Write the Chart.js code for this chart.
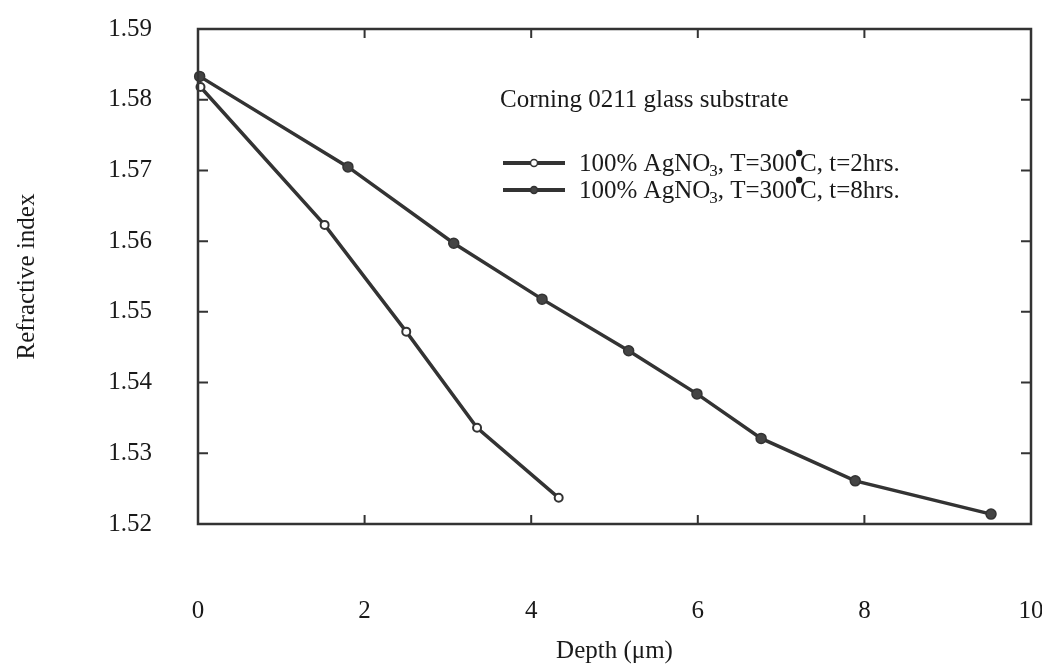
<!DOCTYPE html>
<html>
<head>
<meta charset="utf-8">
<script src="https://cdn.jsdelivr.net/npm/chart.js@4"></script>
<style>
  html, body { margin: 0; padding: 0; background: #fff; }
  #wrap { width: 1042px; height: 670px; }
</style>
</head>
<body>
<div id="wrap"><canvas id="chart" width="1042" height="670"></canvas></div>
<script>
// values
var depth2h = [0.03, 1.52, 2.50, 3.35, 4.33];
var index2h = [1.5818, 1.5623, 1.5472, 1.5336, 1.5237];
var depth8h = [0.02, 1.80, 3.07, 4.13, 5.17, 5.99, 6.76, 7.89, 9.52];
var index8h = [1.5833, 1.5705, 1.5597, 1.5518, 1.5445, 1.5384, 1.5321, 1.5261, 1.5214];
var xTicks = [0, 2, 4, 6, 8, 10];
var yTicks = [1.52, 1.53, 1.54, 1.55, 1.56, 1.57, 1.58, 1.59];
var noteText = 'Corning 0211 glass substrate';
var seriesNames = ['100% AgNO3, T=300°C, t=2hrs.', '100% AgNO3, T=300°C, t=8hrs.'];

var ink = '#333';
var textInk = '#1a1a1a';
var serif = '"Liberation Serif", "DejaVu Serif", serif';

function toPoints(xs, ys) {
  return xs.map(function(x, i) { return { x: x, y: ys[i] }; });
}

// frame + inward ticks on all four sides
var framePlugin = {
  id: 'frame',
  afterDatasetsDraw: function(chart) {
    var ctx = chart.ctx, a = chart.chartArea;
    var xs = chart.scales.x, ys = chart.scales.y;
    ctx.save();
    ctx.strokeStyle = ink;
    ctx.lineWidth = 2.5;
    ctx.strokeRect(a.left, a.top, a.right - a.left, a.bottom - a.top);
    ctx.lineWidth = 2;
    ctx.beginPath();
    xTicks.forEach(function(v) {
      if (v === xs.min || v === xs.max) return;
      var px = xs.getPixelForValue(v);
      ctx.moveTo(px, a.bottom); ctx.lineTo(px, a.bottom - 9);
      ctx.moveTo(px, a.top); ctx.lineTo(px, a.top + 9);
    });
    yTicks.forEach(function(v) {
      if (v === ys.min || v === ys.max) return;
      var py = ys.getPixelForValue(v);
      ctx.moveTo(a.left, py); ctx.lineTo(a.left + 10, py);
      ctx.moveTo(a.right, py); ctx.lineTo(a.right - 10, py);
    });
    ctx.stroke();
    ctx.restore();
  }
};

// draws "100% AgNO3, T=300°C, t=.." with subscript 3 and raised dot for degree
function drawLabel(ctx, label, x, y) {
  var parts = label.split('AgNO3');
  var rest = parts[1].split('°');
  ctx.font = '25px ' + serif;
  ctx.fillStyle = textInk;
  ctx.textBaseline = 'alphabetic';
  ctx.textAlign = 'left';
  var cx = x;
  var base = y + 8;
  ctx.fillText(parts[0] + 'AgNO', cx, base);
  cx += ctx.measureText(parts[0] + 'AgNO').width;
  ctx.font = '17px ' + serif;
  ctx.fillText('3', cx - 1, base + 5);
  cx += ctx.measureText('3').width - 1;
  ctx.font = '25px ' + serif;
  ctx.fillText(rest[0], cx, base);
  cx += ctx.measureText(rest[0]).width;
  ctx.beginPath();
  ctx.arc(cx + 2, base - 18, 3.2, 0, Math.PI * 2);
  ctx.fill();
  cx += 3;
  ctx.fillText(rest[1], cx, base);
}

var legendPlugin = {
  id: 'paperLegend',
  afterDraw: function(chart) {
    var ctx = chart.ctx;
    ctx.save();
    ctx.font = '25px ' + serif;
    ctx.fillStyle = textInk;
    ctx.textBaseline = 'middle';
    ctx.fillText(noteText, 500, 100);
    chart.data.datasets.forEach(function(ds, i) {
      var y = 163 + i * 27;
      ctx.strokeStyle = ink;
      ctx.lineWidth = 4;
      ctx.beginPath();
      ctx.moveTo(503, y); ctx.lineTo(565, y);
      ctx.stroke();
      ctx.beginPath();
      ctx.arc(534, y, 3.5, 0, Math.PI * 2);
      ctx.fillStyle = ds.pointBackgroundColor;
      ctx.fill();
      ctx.lineWidth = 1.5;
      ctx.stroke();
      drawLabel(ctx, seriesNames[i], 579, y);
    });
    ctx.restore();
  }
};

function noPad(s) {
  s.paddingLeft = 0; s.paddingRight = 0; s.paddingTop = 0; s.paddingBottom = 0;
}

new Chart(document.getElementById('chart').getContext('2d'), {
  type: 'scatter',
  data: {
    datasets: [
      {
        label: seriesNames[0],
        data: toPoints(depth2h, index2h),
        showLine: true,
        borderColor: ink,
        borderWidth: 3.5,
        pointRadius: 4,
        pointBorderWidth: 2,
        pointBorderColor: ink,
        pointBackgroundColor: '#fff',
        clip: false
      },
      {
        label: seriesNames[1],
        data: toPoints(depth8h, index8h),
        showLine: true,
        borderColor: ink,
        borderWidth: 3.5,
        pointRadius: 5,
        pointBorderWidth: 1.5,
        pointBorderColor: ink,
        pointBackgroundColor: '#444',
        clip: false
      }
    ]
  },
  options: {
    responsive: false,
    animation: false,
    events: [],
    layout: { padding: { top: 29, right: 11, left: 0, bottom: 0 } },
    plugins: {
      legend: { display: false },
      tooltip: { enabled: false }
    },
    scales: {
      x: {
        type: 'linear',
        min: 0,
        max: 10,
        afterBuildTicks: function(s) { s.ticks = xTicks.map(function(v) { return { value: v }; }); },
        afterFit: function(s) { s.height = 146; noPad(s); },
        grid: { display: false, drawTicks: false },
        border: { display: false },
        ticks: {
          padding: 72,
          color: textInk,
          font: { family: serif, size: 25 },
          maxRotation: 0
        },
        title: {
          display: true,
          text: 'Depth (μm)',
          color: textInk,
          font: { family: serif, size: 25 },
          padding: { top: 0, bottom: 4 }
        }
      },
      y: {
        type: 'linear',
        min: 1.52,
        max: 1.59,
        afterBuildTicks: function(s) { s.ticks = yTicks.map(function(v) { return { value: v }; }); },
        afterFit: function(s) { s.width = 198; noPad(s); },
        grid: { display: false, drawTicks: false },
        border: { display: false },
        ticks: {
          padding: 46,
          color: textInk,
          font: { family: serif, size: 25 },
          callback: function(v) { return v.toFixed(2); }
        },
        title: {
          display: true,
          text: 'Refractive index',
          color: textInk,
          font: { family: serif, size: 25 },
          padding: { top: 12, bottom: 0 }
        }
      }
    }
  },
  plugins: [framePlugin, legendPlugin]
});
</script>
</body>
</html>
